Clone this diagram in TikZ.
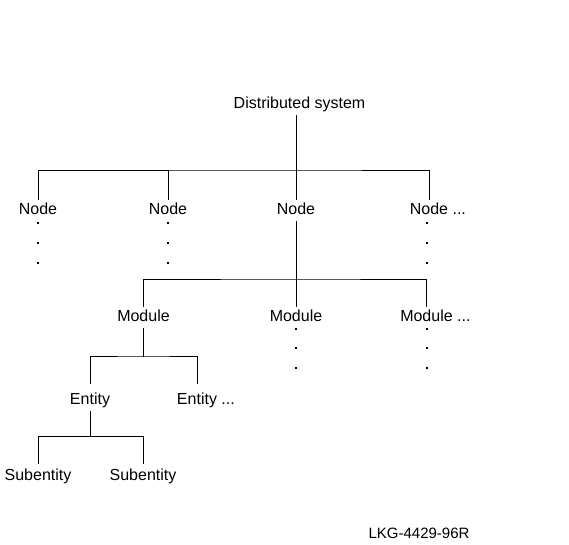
\documentclass[tikz,border=0pt]{standalone}
\usepackage{fontspec}
\setmainfont{Liberation Sans}
\begin{document}
\begin{tikzpicture}[x=1pt,y=-1pt,line width=1pt,
  lbl/.style={font=\fontsize{16}{19}\selectfont, inner sep=0pt, outer ysep=3.5pt, anchor=base, text height=11.5pt, text depth=3.5pt},
  conn/.style={line width=1pt, line cap=rect},
  figcode/.style={font=\fontsize{15}{18}\selectfont, inner sep=0pt, anchor=base}]
\useasboundingbox (0,0) rectangle (569,544);
% nodes
\node[lbl] (root) at (299.5,108) {Distributed system};
\node[lbl] (n1) at (38,214) {Node};
\node[lbl] (n2) at (168,214) {Node};
\node[lbl] (n3) at (296,214) {Node};
\node[lbl] (n4) at (429,214) {Node\rlap{ ...}};
\node[lbl] (m1) at (143.5,321) {Module};
\node[lbl] (m2) at (296,321) {Module};
\node[lbl] (m3) at (426.5,321) {Module\rlap{ ...}};
\node[lbl] (e1) at (90,404) {Entity};
\node[lbl] (e2) at (197,404) {Entity\rlap{ ...}};
\node[lbl] (s1) at (38,480.5) {Subentity};
\node[lbl] (s2) at (143,480.5) {Subentity};
\node[figcode] (code) at (419,538) {LKG-4429-96R};
% bus coordinates
\coordinate (b1) at (296,170);
\coordinate (b2) at (296,279);
\coordinate (b3) at (143.5,356);
\coordinate (b4) at (90,436);
% connectors
\draw[conn] (root.south -| n3) -- (n3.north);
\draw[conn] (n1.north) |- (b1) -| (n4.north);
\draw[conn] (n2.north) -- (n2.north |- b1);
\draw[conn] (n3.south) -- (b2);
\draw[conn] (m1.north) |- (b2) -| (m3.north);
\draw[conn] (m2.north) -- (m2.north |- b2);
\draw[conn] (m1.south) -- (b3);
\draw[conn] ([yshift=6pt]e1.north) |- (b3) -| ([yshift=6pt]e2.north);
\draw[conn] (e1.south) -- (b4);
\draw[conn] ([yshift=2pt]s1.north) |- (b4) -| ([yshift=2pt]s2.north);
% continuation dots
\foreach \x in {38,168,427}
  \foreach \y in {222.7,242.7,262.7}
    \fill (\x-1,\y-1) rectangle ++(2,2);
\foreach \x in {296,426.5}
  \foreach \y in {329.3,348.3,367.7}
    \fill (\x-1,\y-1) rectangle ++(2,2);
\end{tikzpicture}
\end{document}
